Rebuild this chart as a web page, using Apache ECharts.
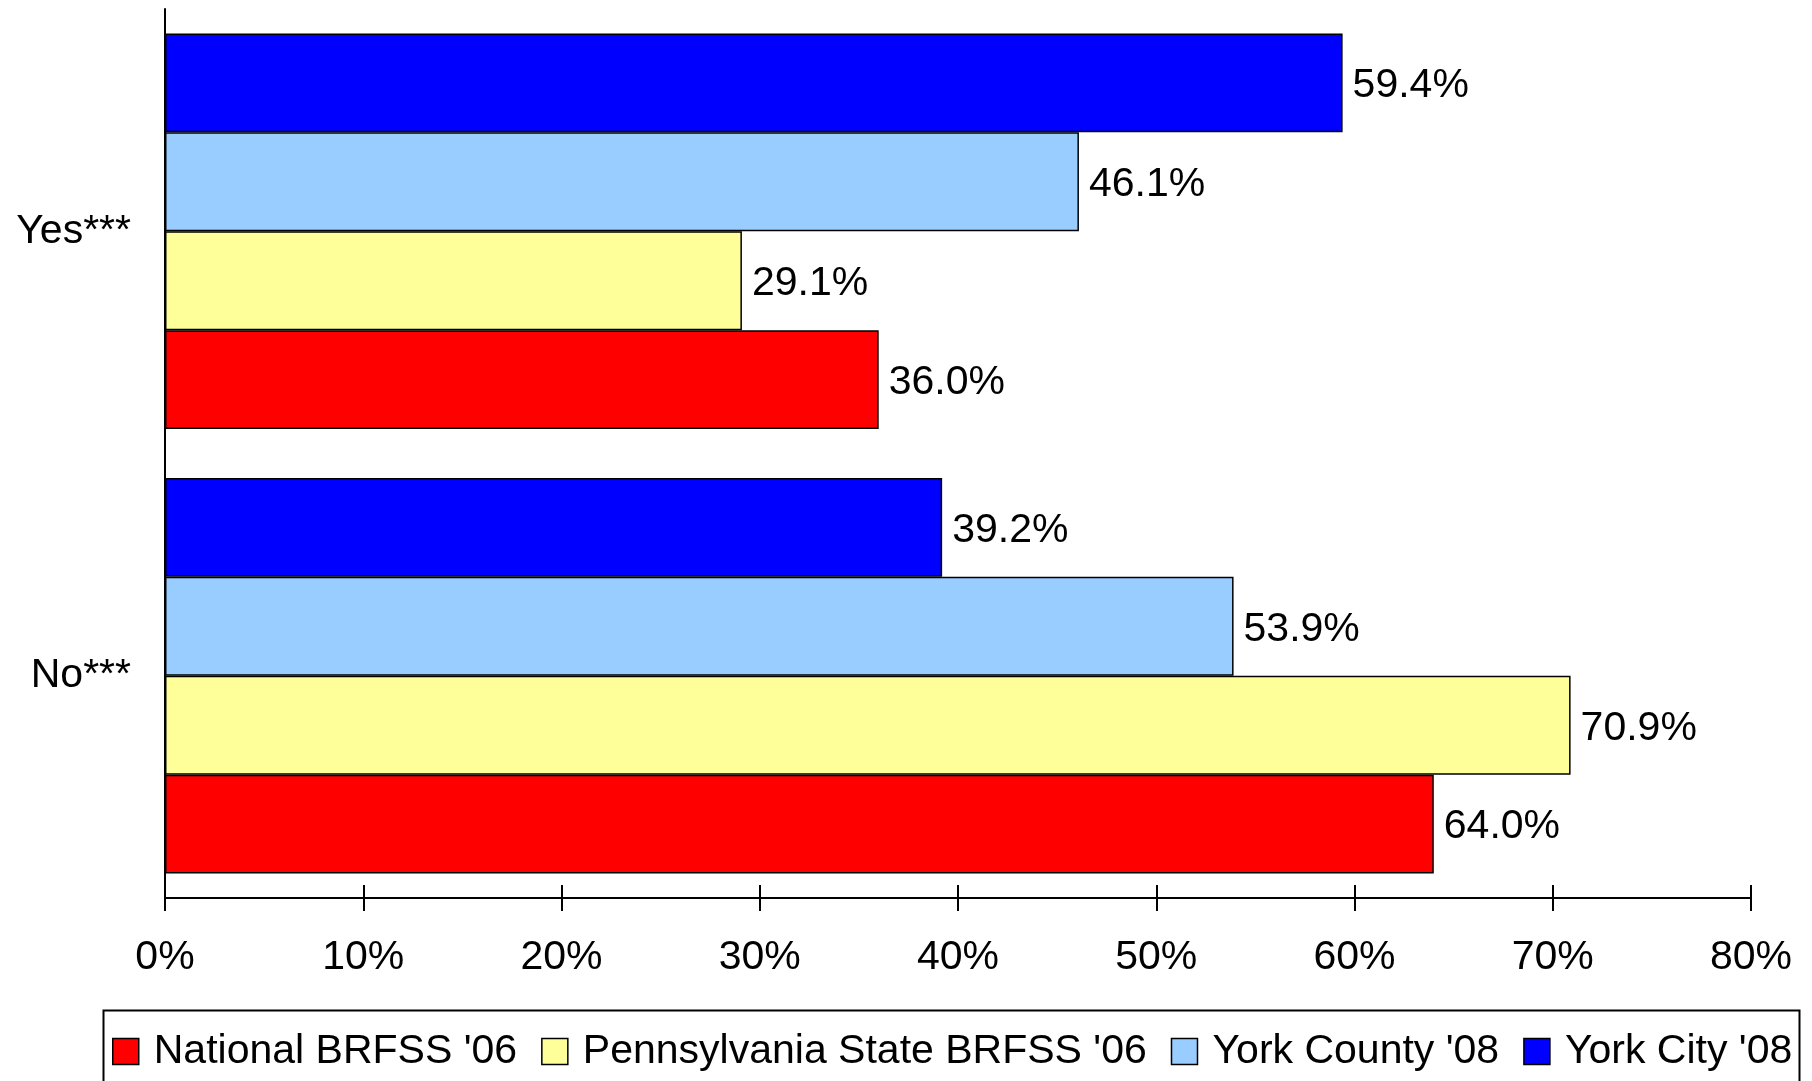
<!DOCTYPE html>
<html>
<head>
<meta charset="utf-8">
<script src="https://cdn.jsdelivr.net/npm/echarts@6/dist/echarts.min.js"></script>
<style>
  html, body { margin: 0; padding: 0; background: #fff; }
  #chart { width: 1812px; height: 1081px; }
</style>
</head>
<body>
<div id="chart"></div>
<script>
const categories = ['Yes***', 'No***'];
const seriesNames = ["National BRFSS '06", "Pennsylvania State BRFSS '06", "York County '08", "York City '08"];
const nationalValues = [36.0, 64.0];
const pennsylvaniaValues = [29.1, 70.9];
const yorkCountyValues = [46.1, 53.9];
const yorkCityValues = [59.4, 39.2];
const xTicks = [0, 10, 20, 30, 40, 50, 60, 70, 80];
const colors = {
  "National BRFSS '06": '#FF0000',
  "Pennsylvania State BRFSS '06": '#FFFF99',
  "York County '08": '#99CCFF',
  "York City '08": '#0000FF'
};

const FONT = 'Liberation Sans, Arial, sans-serif';
const FS = 41;

function makeSeries(name, values) {
  return {
    name: name,
    type: 'bar',
    data: values,
    barGap: '0%',
    barCategoryGap: '11%',
    itemStyle: { color: colors[name], borderColor: '#000', borderWidth: 1.5 },
    label: {
      show: true,
      position: 'right',
      distance: 10,
      offset: [0, 3],
      color: '#000',
      fontFamily: FONT,
      fontSize: FS,
      formatter: p => p.value.toFixed(1) + '%'
    }
  };
}

const chart = echarts.init(document.getElementById('chart'), null, { renderer: 'canvas' });
chart.setOption({
  animation: false,
  backgroundColor: '#fff',
  textStyle: { fontFamily: FONT },
  grid: { left: 165, right: 61, top: 9, bottom: 183, containLabel: false },
  xAxis: [
    {
      type: 'value', min: xTicks[0], max: xTicks[xTicks.length - 1], interval: 10,
      position: 'bottom',
      axisLine: { show: true, lineStyle: { color: '#000', width: 2 } },
      axisTick: { show: true, inside: false, length: 13, lineStyle: { color: '#000', width: 2 } },
      axisLabel: { color: '#000', fontFamily: FONT, fontSize: FS, margin: 39, formatter: v => v + '%' },
      splitLine: { show: false }
    },
    {
      type: 'value', min: xTicks[0], max: xTicks[xTicks.length - 1], interval: 10,
      position: 'bottom',
      axisLine: { show: false },
      axisTick: { show: true, inside: true, length: 13, lineStyle: { color: '#000', width: 2 } },
      axisLabel: { show: false },
      splitLine: { show: false }
    }
  ],
  yAxis: {
    type: 'category',
    data: categories,
    inverse: true,
    axisLine: { show: true, lineStyle: { color: '#000', width: 2 } },
    axisTick: { show: false },
    axisLabel: { color: '#000', fontFamily: FONT, fontSize: FS, margin: 34 }
  },
  legend: {
    data: seriesNames,
    left: 107,
    top: 1026,
    orient: 'horizontal',
    itemWidth: 26,
    itemHeight: 26,
    itemGap: 24,
    icon: 'rect',
    itemStyle: { borderColor: '#000', borderWidth: 1.5 },
    textStyle: { color: '#000', fontFamily: FONT, fontSize: FS, lineHeight: 41, padding: [0, 0, 0, 10] }
  },
  graphic: [
    {
      type: 'rect', left: 101, top: 1008, silent: true,
      shape: { width: 1696, height: 200 },
      style: { fill: 'none', stroke: '#000', lineWidth: 2 }
    }
  ],
  series: [
    makeSeries("York City '08", yorkCityValues),
    makeSeries("York County '08", yorkCountyValues),
    makeSeries("Pennsylvania State BRFSS '06", pennsylvaniaValues),
    makeSeries("National BRFSS '06", nationalValues)
  ]
});
</script>
</body>
</html>
